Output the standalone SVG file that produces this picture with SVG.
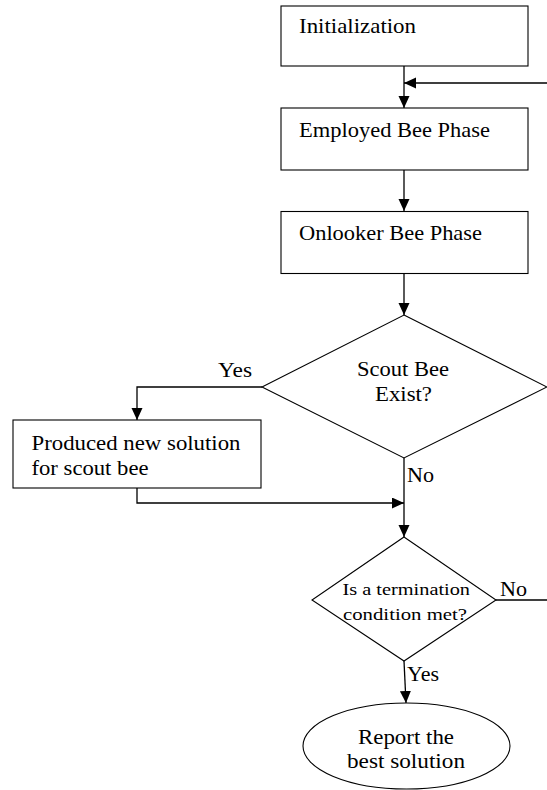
<svg xmlns="http://www.w3.org/2000/svg" width="547" height="790" viewBox="0 0 547 790">
<style>
.shape{fill:#fff;stroke:#000;stroke-width:1.1}
.line{fill:none;stroke:#000;stroke-width:1.3}
text{font-family:"Liberation Serif","Times New Roman",serif;fill:#000;font-size:20px}
.big{font-size:21px}
.small{font-size:17.5px}
</style>
<defs>
<marker id="arr" markerUnits="userSpaceOnUse" markerWidth="13" markerHeight="12" refX="12" refY="5.5" orient="auto" viewBox="0 0 13 12">
<path d="M0,0 L12,5.5 L0,11 z" fill="#000"/>
</marker>
</defs>
<rect width="547" height="790" fill="#fff"/>
<g id="connectors">
<path class="line" d="M404,66 V108" marker-end="url(#arr)"/>
<path class="line" d="M496,600 H550 V83 H404" marker-end="url(#arr)"/>
<path class="line" d="M404,170 V211" marker-end="url(#arr)"/>
<path class="line" d="M404,273 V315" marker-end="url(#arr)"/>
<path class="line" d="M262,387 H137 V420" marker-end="url(#arr)"/>
<path class="line" d="M137,488 V503 H404" marker-end="url(#arr)"/>
<path class="line" d="M404,458 V537" marker-end="url(#arr)"/>
<path class="line" d="M404,661 L406,703" marker-end="url(#arr)"/>
<text x="218" y="377" textLength="34" lengthAdjust="spacingAndGlyphs">Yes</text>
<text x="407" y="482" textLength="27" lengthAdjust="spacingAndGlyphs">No</text>
<text x="500" y="596" textLength="27" lengthAdjust="spacingAndGlyphs">No</text>
<text x="407" y="681" textLength="32" lengthAdjust="spacingAndGlyphs">Yes</text>
</g>
<g id="init">
<rect class="shape" x="281" y="6" width="247" height="60"/>
<text class="big" x="299" y="33" textLength="117" lengthAdjust="spacingAndGlyphs">Initialization</text>
</g>
<g id="employed">
<rect class="shape" x="281" y="108" width="247" height="62"/>
<text class="big" x="299" y="137" textLength="191" lengthAdjust="spacingAndGlyphs">Employed Bee Phase</text>
</g>
<g id="onlooker">
<rect class="shape" x="281" y="211.5" width="247" height="62"/>
<text class="big" x="299" y="239.5" textLength="183" lengthAdjust="spacingAndGlyphs">Onlooker Bee Phase</text>
</g>
<g id="scout-decision">
<polygon class="shape" points="404,315 547,387 404,458 262,387"/>
<text x="357" y="376" textLength="92" lengthAdjust="spacingAndGlyphs">Scout Bee</text>
<text x="375" y="401" textLength="57" lengthAdjust="spacingAndGlyphs">Exist?</text>
</g>
<g id="produce">
<rect class="shape" x="13" y="420" width="248" height="68"/>
<text x="31.5" y="450" textLength="209" lengthAdjust="spacingAndGlyphs">Produced new solution</text>
<text x="31.5" y="475" textLength="117" lengthAdjust="spacingAndGlyphs">for scout bee</text>
</g>
<g id="termination">
<polygon class="shape" points="404,537 496,600 404,661 312,600"/>
<text class="small" x="342.5" y="594.5" textLength="127.5" lengthAdjust="spacingAndGlyphs">Is a termination</text>
<text class="small" x="343" y="619.5" textLength="124" lengthAdjust="spacingAndGlyphs">condition met?</text>
</g>
<g id="report">
<ellipse class="shape" cx="406.5" cy="746" rx="103.5" ry="43"/>
<text x="358" y="743.5" textLength="96" lengthAdjust="spacingAndGlyphs">Report the</text>
<text x="347" y="767.5" textLength="118" lengthAdjust="spacingAndGlyphs">best solution</text>
</g>
</svg>
